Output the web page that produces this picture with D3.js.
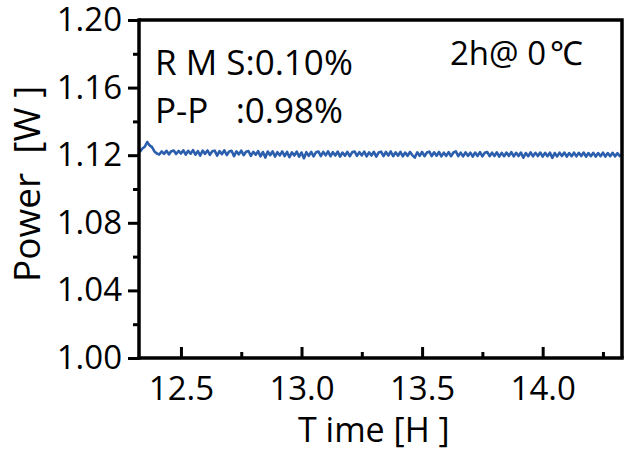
<!DOCTYPE html>
<html><head><meta charset="utf-8">
<script src="https://cdn.jsdelivr.net/npm/d3@7"></script>
<style>
body{margin:0;background:#fff;}
text{font-family:"Open Sans",sans-serif;fill:#000;}
</style></head>
<body><svg id="c" width="631" height="453"></svg>
<script>
const xTicks = [12.5, 13.0, 13.5, 14.0];
const xMinorTicks = [12.75, 13.25, 13.75, 14.25];
const yTicks = [1.00, 1.04, 1.08, 1.12, 1.16, 1.20];
const yMinorTicks = [1.02, 1.06, 1.10, 1.14, 1.18];
const xDomain = [12.326, 14.329];
const yDomain = [1.00, 1.20];
const times = [12.33,12.34,12.35,12.36,12.37,12.38,12.39,12.40,12.41,12.42,12.43,12.44,12.45,12.46,12.47,12.48,12.49,
12.50,12.51,12.52,12.53,12.54,12.55,12.56,12.57,12.58,12.59,12.60,12.61,12.62,12.63,12.64,12.65,12.66,12.67,12.68,12.69,
12.70,12.71,12.72,12.73,12.74,12.75,12.76,12.77,12.78,12.79,12.80,12.81,12.82,12.83,12.84,12.85,12.86,12.87,12.88,12.89,
12.90,12.91,12.92,12.93,12.94,12.95,12.96,12.97,12.98,12.99,13.00,13.01,13.02,13.03,13.04,13.05,13.06,13.07,13.08,13.09,
13.10,13.11,13.12,13.13,13.14,13.15,13.16,13.17,13.18,13.19,13.20,13.21,13.22,13.23,13.24,13.25,13.26,13.27,13.28,13.29,
13.30,13.31,13.32,13.33,13.34,13.35,13.36,13.37,13.38,13.39,13.40,13.41,13.42,13.43,13.44,13.45,13.46,13.47,13.48,13.49,
13.50,13.51,13.52,13.53,13.54,13.55,13.56,13.57,13.58,13.59,13.60,13.61,13.62,13.63,13.64,13.65,13.66,13.67,13.68,13.69,
13.70,13.71,13.72,13.73,13.74,13.75,13.76,13.77,13.78,13.79,13.80,13.81,13.82,13.83,13.84,13.85,13.86,13.87,13.88,13.89,
13.90,13.91,13.92,13.93,13.94,13.95,13.96,13.97,13.98,13.99,14.00,14.01,14.02,14.03,14.04,14.05,14.06,14.07,14.08,14.09,
14.10,14.11,14.12,14.13,14.14,14.15,14.16,14.17,14.18,14.19,14.20,14.21,14.22,14.23,14.24,14.25,14.26,14.27,14.28,14.29,
14.30,14.31,14.32,14.33];
const power = [1.1220,1.1240,1.1250,1.1278,1.1258,1.1248,1.1222,1.1210,1.1204,1.1222,1.1208,1.1226,1.1205,1.1224,1.1228,1.1207,1.1225,
1.1210,1.1229,1.1204,1.1226,1.1209,1.1230,1.1203,1.1224,1.1198,1.1227,1.1208,1.1228,1.1202,1.1223,1.1227,1.1197,1.1224,1.1206,1.1229,1.1201,
1.1222,1.1226,1.1194,1.1223,1.1205,1.1227,1.1200,1.1221,1.1225,1.1196,1.1220,1.1203,1.1224,1.1193,1.1219,1.1186,1.1222,1.1200,1.1223,1.1192,
1.1218,1.1199,1.1222,1.1195,1.1219,1.1188,1.1217,1.1198,1.1221,1.1191,1.1216,1.1182,1.1218,1.1196,1.1220,1.1193,1.1217,1.1222,1.1195,1.1219,
1.1199,1.1223,1.1194,1.1218,1.1198,1.1221,1.1192,1.1216,1.1197,1.1220,1.1194,1.1217,1.1222,1.1196,1.1218,1.1199,1.1221,1.1193,1.1217,1.1198,
1.1220,1.1192,1.1216,1.1221,1.1195,1.1219,1.1198,1.1222,1.1194,1.1217,1.1197,1.1220,1.1193,1.1216,1.1196,1.1219,1.1199,1.1186,1.1217,1.1196,
1.1219,1.1194,1.1216,1.1221,1.1195,1.1217,1.1197,1.1219,1.1193,1.1215,1.1196,1.1218,1.1194,1.1216,1.1223,1.1195,1.1215,1.1193,1.1217,1.1196,
1.1215,1.1192,1.1216,1.1195,1.1218,1.1193,1.1214,1.1219,1.1194,1.1215,1.1195,1.1217,1.1192,1.1214,1.1194,1.1216,1.1196,1.1218,1.1193,1.1214,
1.1195,1.1216,1.1185,1.1213,1.1194,1.1217,1.1193,1.1214,1.1195,1.1216,1.1192,1.1214,1.1194,1.1215,1.1184,1.1213,1.1193,1.1215,1.1195,1.1216,
1.1192,1.1213,1.1194,1.1215,1.1193,1.1214,1.1195,1.1216,1.1191,1.1213,1.1194,1.1214,1.1192,1.1213,1.1194,1.1215,1.1192,1.1213,1.1194,1.1214,
1.1193,1.1212,1.1195,1.1205];

const svg = d3.select("#c");
const L = 139, R = 622, T = 20, B = 358;
const x = d3.scaleLinear().domain(xDomain).range([L, R]);
const y = d3.scaleLinear().domain(yDomain).range([B, T]);
const fmtY = d3.format(".2f"), fmtX = d3.format(".1f");

// data line
const line = d3.line().x((d,i)=>x(times[i])).y(d=>y(d));
svg.append("path").datum(power).attr("d", line)
  .attr("fill","none").attr("stroke","#2b5fae").attr("stroke-width",2.6).attr("stroke-linejoin","round");

// frame top/right
svg.append("path").attr("d",`M${L},${T}H${R}V${B}`).attr("fill","none").attr("stroke","#000").attr("stroke-width",3.5);

// y axis
const yAx = svg.append("g").attr("transform",`translate(${L},0)`)
  .call(d3.axisLeft(y).tickValues(yTicks).tickFormat(fmtY).tickSize(11).tickPadding(6));
svg.append("g").attr("transform",`translate(${L},0)`)
  .call(d3.axisLeft(y).tickValues(yMinorTicks).tickFormat("").tickSize(6)).select(".domain").remove();
// x axis (ticks inward)
const xAx = svg.append("g").attr("transform",`translate(0,${B})`)
  .call(d3.axisTop(x).tickValues(xTicks).tickFormat(fmtX).tickSize(11));
xAx.selectAll(".tick text").attr("y", 42).attr("dy", 0);
svg.append("g").attr("transform",`translate(0,${B})`)
  .call(d3.axisTop(x).tickValues(xMinorTicks).tickFormat("").tickSize(6)).select(".domain").remove();

svg.selectAll(".domain").attr("stroke","#000").attr("stroke-width",3.5);
svg.selectAll(".tick line").attr("stroke","#000").attr("stroke-width",3);
svg.selectAll(".tick text").style("font-family","'Open Sans',sans-serif").style("font-size","33px").attr("fill","#000");
yAx.select(".domain").attr("d",`M0,${T-1.75}V${B+1.75}`);
xAx.select(".domain").attr("d",`M${L-1.75},0H${R+1.75}`);

// annotations
svg.append("text").attr("x",155).attr("y",75).style("font-size","35px").style("white-space","pre").text("R M S:0.10%");
svg.append("text").attr("x",155).attr("y",123).style("font-size","35px").style("white-space","pre").text("P-P   :0.98%");
const t2 = svg.append("text").attr("x",450).attr("y",65).style("font-size","33px").style("white-space","pre");
t2.append("tspan").text("2h@ 0");
t2.append("tspan").attr("dx",4).style("font-weight","300").text("℃");

// axis titles
svg.append("text").attr("transform","translate(40,282) rotate(-90)").style("font-size","37px").style("white-space","pre").text("Power  [W ]");
svg.append("text").attr("x",298).attr("y",442).style("font-size","34px").style("white-space","pre").text("T ime [H ]");
</script></body></html>
